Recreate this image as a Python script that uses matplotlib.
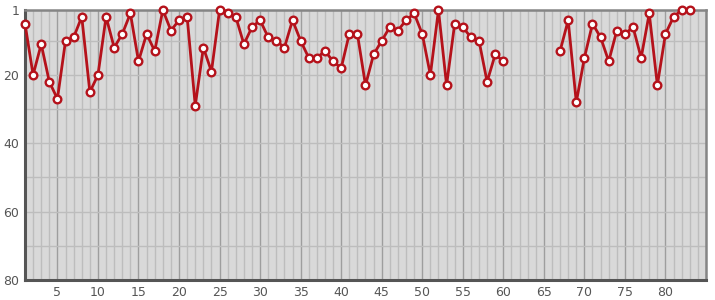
import numpy as np
import matplotlib
matplotlib.use("Agg")
import matplotlib.pyplot as plt
from matplotlib.ticker import MultipleLocator, FixedLocator

# rank per position, None where there is no value
positions = list(range(1, 84))
ranks = [5, 20, 11, 22, 27, 10, 9, 3, 25, 20,
         3, 12, 8, 2, 16, 8, 13, 1, 7, 4,
         3, 29, 12, 19, 1, 2, 3, 11, 6, 4,
         9, 10, 12, 4, 10, 15, 15, 13, 16, 18,
         8, 8, 23, 14, 10, 6, 7, 4, 2, 8,
         20, 1, 23, 5, 6, 9, 10, 22, 14, 16,
         None, None, None, None, None, None,
         13, 4, 28, 15, 5, 9, 16, 7, 8, 6,
         15, 2, 23, 8, 3, 1, 1]
x_ticks = [5, 10, 15, 20, 25, 30, 35, 40, 45, 50, 55, 60, 65, 70, 75, 80]
y_ticks = [1, 20, 40, 60, 80]

y = np.array([np.nan if v is None else v for v in ranks], dtype=float)

fig = plt.figure(figsize=(7.15, 3.0), dpi=100)
ax = fig.add_axes([25 / 715, 20 / 300, 681 / 715, 270 / 300])
ax.set_facecolor("#d9d9d9")

ax.set_xlim(1, 85)
ax.set_ylim(80, 1)

ax.xaxis.set_major_locator(FixedLocator(x_ticks))
ax.xaxis.set_minor_locator(MultipleLocator(1))
ax.yaxis.set_major_locator(FixedLocator(y_ticks))
ax.yaxis.set_minor_locator(MultipleLocator(10))

ax.grid(True, which="minor", axis="both", color="#bdbdbd", lw=1.0)
ax.grid(True, which="major", axis="x", color="#9e9e9e", lw=1.0)
ax.grid(True, which="major", axis="y", color="#bdbdbd", lw=1.0)
ax.set_axisbelow(True)

ax.tick_params(which="both", length=0, labelsize=9, labelcolor="#555555", pad=4)

for side in ["left", "bottom"]:
    ax.spines[side].set_color("#555555")
    ax.spines[side].set_linewidth(2.2)
for side in ["top", "right"]:
    ax.spines[side].set_color("#858585")
    ax.spines[side].set_linewidth(1.8)

ax.plot(positions, y, color="#b5121b", lw=2, marker="o", ms=5.5,
        mfc="white", mec="#b5121b", mew=1.7, clip_on=False, zorder=3)

fig.savefig("out.png", dpi=100)
